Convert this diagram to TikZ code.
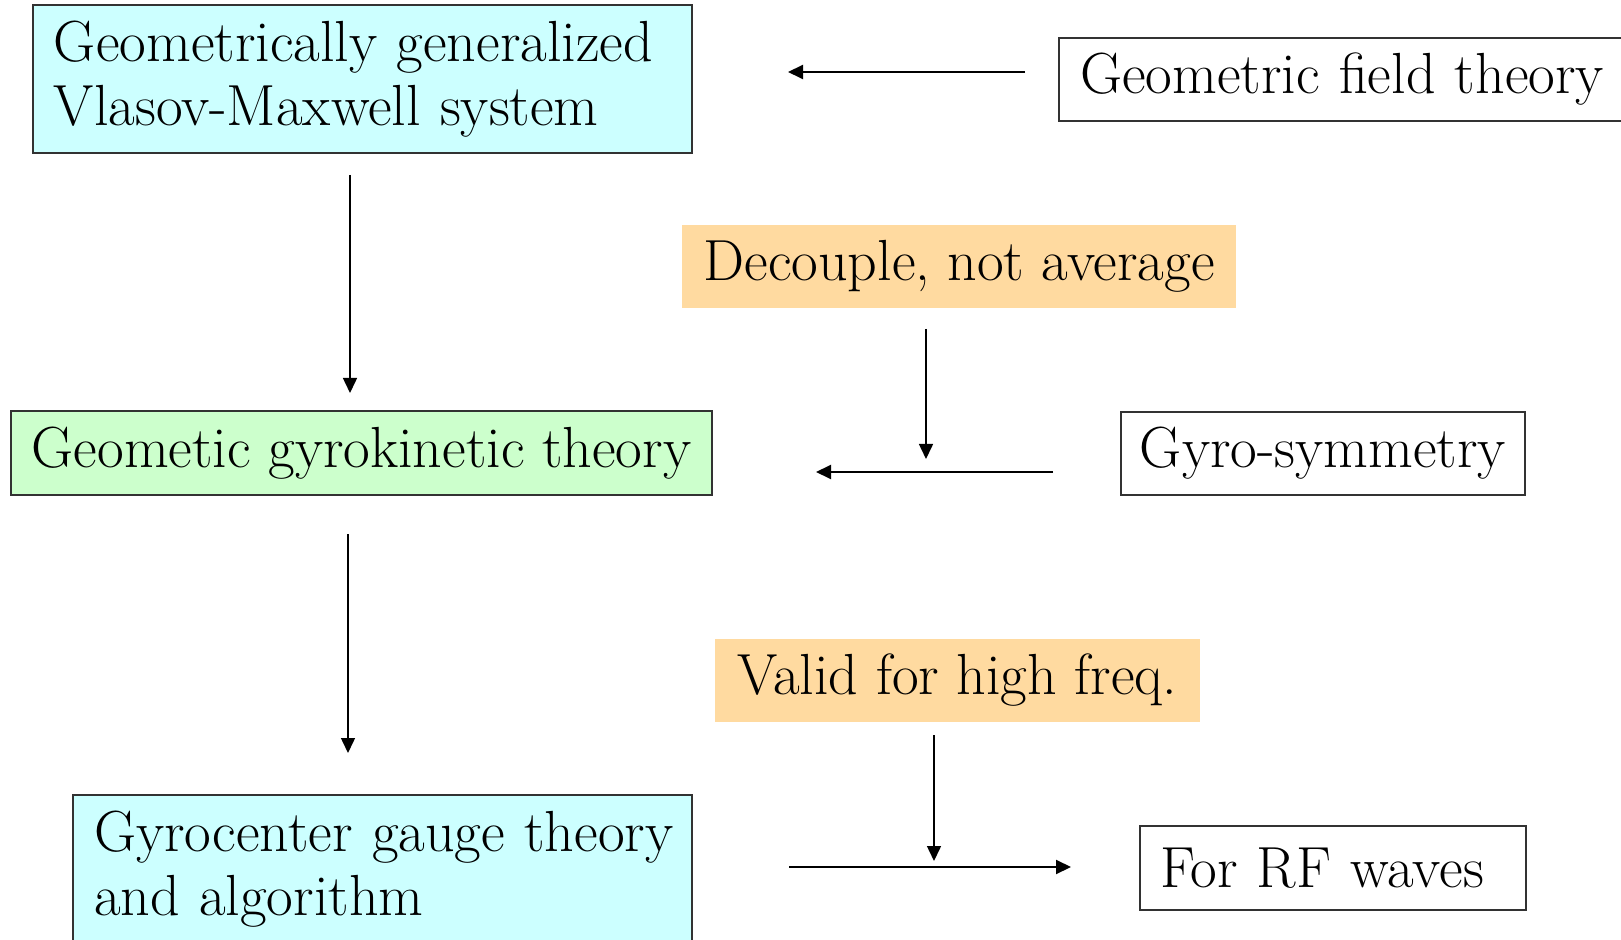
\documentclass[tikz,border=0pt]{standalone}
\usetikzlibrary{arrows.meta}
\definecolor{cyanbox}{RGB}{204,255,255}
\definecolor{greenbox}{RGB}{204,255,204}
\definecolor{orangebox}{RGB}{255,218,160}
\definecolor{edge}{RGB}{50,50,50}
\begin{document}
\begin{tikzpicture}[x=0.5pt,y=-0.5pt,
  font=\fontsize{29}{32}\selectfont,
  box/.style={draw=edge, line width=0.6pt, inner ysep=0pt, anchor=center},
  lbox/.style={box, align=left, inner xsep=10.5pt},
  cbox/.style={box, align=center, inner xsep=0pt},
  tag/.style={fill=orangebox, inner sep=0pt, anchor=center, align=center},
  harr/.style={-{Triangle[length=7.5pt,width=7pt]}, line width=1pt},
  varr/.style={-{Triangle[length=7.5pt,width=7pt]}, line width=0.75pt}]
\useasboundingbox (0,0) rectangle (1621,940);
\fill[white] (0,0) rectangle (1621,940);

\node[lbox, fill=cyanbox, text width=308.5pt, minimum height=74pt] (vm) at (362.5,79)
  {\mbox{Geometrically generalized}\\\mbox{Vlasov-Maxwell system}};
\node[lbox, fill=white, text width=261pt, minimum height=41.5pt] (gft) at (1341,79.5)
  {\mbox{Geometric field theory}};
\node[tag, minimum width=277pt, minimum height=41.5pt] (dec) at (959,266.5)
  {Decouple, not average};
\node[cbox, fill=greenbox, minimum width=350.5pt, minimum height=42pt] (ggt) at (361.5,453)
  {Geometic gyrokinetic theory};
\node[cbox, fill=white, minimum width=202pt, minimum height=41.5pt] (gs) at (1323,453.5)
  {Gyro-symmetry};
\node[tag, minimum width=242.5pt, minimum height=41.5pt] (vhf) at (957.5,680.5)
  {Valid for high freq.};
\node[lbox, fill=cyanbox, text width=288.5pt, minimum height=74pt] (gct) at (382.5,869)
  {\mbox{Gyrocenter gauge theory}\\\mbox{and algorithm}};
\node[lbox, fill=white, inner xsep=10pt, text width=173pt, minimum height=42pt] (rf) at (1333,868)
  {\mbox{For RF waves}};

\coordinate (a1s) at (1025,72);  \coordinate (a1e) at (788,72);
\coordinate (a2s) at (350,175);  \coordinate (a2e) at (350,393);
\coordinate (a3s) at (926,329);  \coordinate (a3e) at (926,459);
\coordinate (a4s) at (1053,472); \coordinate (a4e) at (816,472);
\coordinate (a5s) at (348,534);  \coordinate (a5e) at (348,753);
\coordinate (a6s) at (934,735);  \coordinate (a6e) at (934,861);
\coordinate (a7s) at (789,867);  \coordinate (a7e) at (1071,867);

\draw[harr] (a1s) -- (a1e);
\draw[varr] (a2s) -- (a2e);
\draw[varr] (a3s) -- (a3e);
\draw[harr] (a4s) -- (a4e);
\draw[varr] (a5s) -- (a5e);
\draw[varr] (a6s) -- (a6e);
\draw[harr] (a7s) -- (a7e);
\end{tikzpicture}
\end{document}
